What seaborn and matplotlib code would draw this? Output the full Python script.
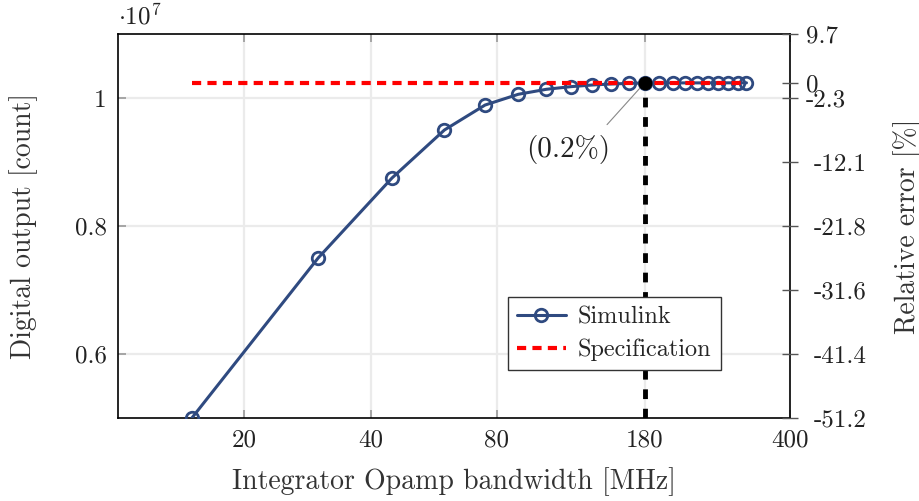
import numpy as np
import pandas as pd
import matplotlib
matplotlib.use("Agg")
import matplotlib.pyplot as plt
import matplotlib.transforms as mtransforms
import seaborn as sns
from matplotlib.ticker import FixedLocator, NullLocator, FixedFormatter

# ---- data ----
bandwidth_mhz = [15, 30, 45, 60, 75, 90, 105, 120, 135, 150, 165, 180,
                 195, 210, 225, 240, 255, 270, 285, 300, 315]
simulink_counts = [0.500, 0.750, 0.875, 0.950, 0.989, 1.0058, 1.0136, 1.0177,
                   1.0203, 1.0219, 1.0228, 1.0235, 1.0235, 1.0236, 1.0236,
                   1.0236, 1.0236, 1.0237, 1.0237, 1.0237, 1.0237]  # x1e7
spec_x = [15, 315]
spec_value = 1.0235  # x1e7
marked_bw = 180
x_ticks = [20, 40, 80, 180, 400]
y_ticks = [0.6, 0.8, 1.0]
y_tick_labels = ["0.6", "0.8", "1"]
right_tick_pos = [1.1, spec_value, 1.0, 0.9, 0.8, 0.7, 0.6, 0.5]
right_tick_labels = ["9.7", "0", "-2.3", "-12.1", "-21.8", "-31.6", "-41.4", "-51.2"]

sns.set_theme(style="white")
plt.rcParams["font.family"] = ["cmr10", "DejaVu Serif"]
plt.rcParams["mathtext.fontset"] = "cm"
plt.rcParams["axes.unicode_minus"] = False

tfs = 18
lfs = 20
fig = plt.figure(figsize=(9.2, 5.01), dpi=100)
ax = fig.add_axes([118/920, 1-418/501, (790-118)/920, (418-34)/501])

df = pd.DataFrame({"bw": bandwidth_mhz, "val": simulink_counts})
dspec = pd.DataFrame({"bw": spec_x, "val": [spec_value]*2})

blue = "#2f4a80"
sns.lineplot(data=df, x="bw", y="val", ax=ax, color=blue, lw=2.2, marker="o",
             markersize=9, markerfacecolor="none", markeredgecolor=blue,
             markeredgewidth=2, label="Simulink", zorder=3)
sns.lineplot(data=dspec, x="bw", y="val", ax=ax, color="#ff0000", lw=3.0,
             label="Specification", zorder=4)
ax.lines[-1].set_dashes([2.2, 1.5])

# vertical marker at 180
ax.plot([marked_bw, marked_bw], [0.5, spec_value], color="black", lw=3.5,
        dashes=[2, 2], zorder=5)
ax.plot([marked_bw], [spec_value], "o", color="black", markersize=9, zorder=6)

ax.set_xscale("log")
ax.set_xlim(10, 400)
ax.set_ylim(0.5, 1.1)
ax.xaxis.set_major_locator(FixedLocator(x_ticks))
ax.xaxis.set_major_formatter(FixedFormatter([str(t) for t in x_ticks]))
ax.xaxis.set_minor_locator(NullLocator())
ax.yaxis.set_major_locator(FixedLocator(y_ticks))
ax.yaxis.set_major_formatter(FixedFormatter(y_tick_labels))

ax.grid(True, color="#ebebeb", lw=1.6, zorder=0)
ax.set_axisbelow(True)
for s in ax.spines.values():
    s.set_color("black")
    s.set_linewidth(1.2)
ax.tick_params(axis="both", which="major", direction="in", length=6, width=1.2,
               color="#999999", labelsize=tfs, labelcolor="#222222", pad=8,
               top=True, bottom=True, left=True, right=False)

ax.set_xlabel("Integrator Opamp bandwidth [MHz]", fontsize=lfs, color="#333333")
ax.set_ylabel("Digital output [count]", fontsize=lfs, color="#333333")
ax.xaxis.set_label_coords(0.5, -0.128)
ax.yaxis.set_label_coords(-0.119, 0.5)

ax.text(0.0, 1.012, r"$\cdot10^{7}$", transform=ax.transAxes, fontsize=18,
        ha="left", va="bottom", color="#222222")

ax.annotate("(0.2%)", xy=(marked_bw, spec_value), xytext=(-55, -48),
            textcoords="offset points", fontsize=21, color="#222222",
            ha="center", va="center",
            arrowprops=dict(arrowstyle="-", color="#888888", lw=0.8,
                            shrinkA=7, shrinkB=5, relpos=(0.85, 1.0)))

leg = ax.legend(loc="upper left", bbox_to_anchor=(0.580, 0.315), fontsize=17.5,
                frameon=True, fancybox=False, edgecolor="#333333",
                handlelength=2.0, borderpad=0.38, labelspacing=0.42,
                borderaxespad=0.0, handletextpad=0.5, framealpha=1.0)
leg.get_frame().set_linewidth(1.0)
leg.set_zorder(10)

# right axis (relative error)
ax2 = ax.twinx()
ax2.set_ylim(ax.get_ylim())
ax2.yaxis.set_major_locator(FixedLocator(right_tick_pos))
ax2.yaxis.set_major_formatter(FixedFormatter(right_tick_labels))
ax2.tick_params(axis="y", direction="inout", length=12, width=1.0, color="#555555",
                labelsize=tfs, labelcolor="#222222", pad=11)
ax2.set_ylabel("Relative error [%]", fontsize=lfs, color="#333333")
ax2.yaxis.set_label_coords(1.153, 0.5)
ax2.grid(False)
for s in ax2.spines.values():
    s.set_visible(False)

# the first three right labels sit a little closer to the axis
ticks = ax2.yaxis.get_major_ticks()
for i in range(3):
    lab = ticks[i].label2
    lab.set_transform(lab.get_transform() +
                      mtransforms.ScaledTranslation(-8/100, 0, fig.dpi_scale_trans))

fig.savefig("out.png", dpi=100)
